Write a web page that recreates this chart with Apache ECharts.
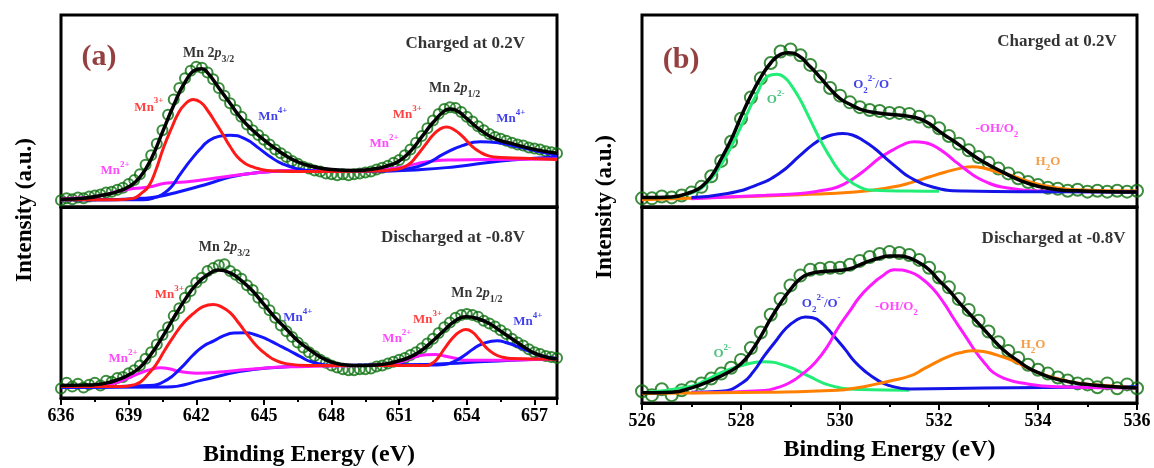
<!DOCTYPE html>
<html>
<head>
<meta charset="utf-8">
<title>XPS Mn 2p / O 1s</title>
<script src="https://cdn.jsdelivr.net/npm/echarts@6/dist/echarts.min.js"></script>
<style>
  html, body { margin: 0; padding: 0; background: #fff; }
  #chart { width: 1154px; height: 468px; }
</style>
</head>
<body>
<div id="chart"></div>
<script>
// ---- data (intensity in % of each sub-panel height) ----

// panel (a), Mn 2p, measured points every 0.25 eV from 636 eV
const mnStart = 636, mnStep = 0.25;
const mnChargedData = [
  3.5, 4.5, 4, 5,   4.5, 5.5, 6, 6.5,   7.5, 8, 9, 10,   12, 14, 17, 22,
  27, 33, 40, 48,   56, 62, 67, 71,   73, 72.5, 70, 66.5,   62, 58, 54, 50.5,
  47, 43, 40, 37.5,   35, 32.5, 30, 28,   26, 24, 22.5, 21,   20, 19, 18.5, 17.5,
  17, 16.5, 17, 16.5,   17, 17.5, 18, 18.5,   19.5, 20.5, 21.5, 23,   24.5, 27, 30, 33.5,
  37, 41, 45, 48.5,   51, 52, 51.5, 49.5,   47, 44.5, 42, 40,   38, 36.5, 35.5, 34.5,
  33.5, 32.5, 32, 31,   30.5, 30, 29, 28.5,   28
];
const mnDischargedData = [
  5, 8, 6, 7.5,   5.5, 7, 8, 6.5,   9, 8.5, 10.5, 11,   13, 14.5, 17, 20.5,
  24, 28, 33, 37,   43, 47, 52.5, 56,   60.5, 63, 66.5, 68,   69.5, 70, 66.5, 64.5,
  62.5, 59, 56.5, 52.5,   49.5, 46, 42, 38,   35, 32, 29, 26.5,   24, 22, 20, 18.5,
  17, 16, 15, 14.5,   14.5, 15, 15, 15.5,   16.5, 17, 18, 19,   20, 21, 22.5, 24,
  26, 28.5, 31, 34,   37, 39.5, 42, 43.5,   44, 43.5, 42.5, 40.5,   39, 37.5, 35.5, 33.5,
  31, 29, 27.5, 25.5,   24, 23, 22, 21.5,   21
];

// fitted curves, [binding energy, intensity]
const mnChargedFit = [[636,4],[637,4.6],[638,6.5],[638.5,8],[639,10.5],[639.5,15.5],[640,25],[640.5,39],[641,53],[641.5,65],[642,71.5],[642.25,72],[642.5,70],[643,62],[643.5,54],[644,46],[644.5,40],[645,35],[645.5,30.5],[646,26.5],[646.5,23.5],[647,21.5],[648,19.5],[649,19],[650,20],[650.5,21.5],[651,24],[651.5,29],[652,36.5],[652.5,44],[653,50],[653.25,51],[653.5,50.5],[654,46],[654.5,41],[655,37],[655.5,34.5],[656,33],[657,30],[658,28]];
const mnChargedMn3 = [[636,3.8],[638.5,3.8],[639.2,4.5],[639.6,7.5],[639.9,11],[640.2,19],[640.55,31],[640.9,41],[641.2,48.7],[641.5,53.5],[641.86,56],[642.2,54.5],[642.52,50],[642.85,44],[643.17,38],[643.5,31.5],[643.83,26],[644.15,22.8],[644.48,21],[644.8,19.8],[645.14,19],[645.6,18.7],[646.5,18.5],[648,18.5],[650,18.7],[650.8,19.5],[651.4,22],[651.8,27],[652.2,33],[652.5,37.5],[652.8,40.5],[653.1,41.7],[653.4,40.5],[653.75,37.4],[654.2,32],[654.6,28.5],[655,26.5],[655.5,25.8],[656.5,25.4],[658,24.7]];
const mnChargedMn4 = [[636,3.8],[639.6,3.8],[640.2,5],[640.55,7],[640.9,10.5],[641.2,15.6],[641.5,20.5],[641.86,26],[642.2,30.5],[642.5,34],[643,36.8],[643.5,37.4],[644.15,35.6],[644.8,30.4],[645.3,26],[645.8,22.6],[646.45,20],[647.3,18.8],[650.5,18.8],[651.4,20],[652.2,22.6],[653,27.8],[653.8,32],[654.6,34],[655.4,33.4],[656.3,31.3],[657.1,29.2],[658,27]];
const mnChargedBg = [[636,3.8],[638,3.8],[639.5,4.5],[640.2,5.2],[641.2,7.8],[642.5,12],[643.5,15.6],[644.8,18],[646.5,19],[648,19],[650,18.8],[652,19.5],[653.5,21],[654.5,22.5],[656,24.5],[658,26]];
const mnChargedMn2 = [[636,4.3],[637,4.8],[637.4,5.2],[638,6.5],[638.6,8.3],[639.2,9.6],[639.9,10.4],[640.7,12.5],[641.5,13],[643.2,15.6],[644.8,18],[646.5,19],[648,19],[650,19.3],[651,20.5],[651.8,22.6],[652.5,24],[653.5,24.5],[655,24.8],[658,25]];

const mnDischargedFit = [[636,6.5],[637,6.8],[637.5,7],[638,7.8],[638.5,9.5],[639,12],[639.5,16],[640,23],[640.5,32],[641,42],[641.5,51.5],[642,59.5],[642.5,64.5],[643,67],[643.5,65.5],[644,61.5],[644.5,56],[645,49],[645.5,42],[646,36],[646.5,30],[647,25.5],[647.5,21.5],[648,18.8],[648.5,17.5],[649,17],[650,17.3],[650.5,18],[651,19.5],[651.5,21.5],[652,25],[652.5,30],[653,35.5],[653.5,40.5],[654,42.5],[654.5,41.5],[655,39],[655.5,35],[656,31],[656.5,27],[657,23.5],[657.5,21.5],[658,20.5]];
const mnDischargedMn3 = [[636,6],[638.7,6],[639.2,6.8],[639.54,8.5],[639.9,13],[640.2,17.2],[640.6,25],[641.02,32.7],[641.45,39.5],[641.85,44],[642.3,47.8],[642.75,49],[643.1,47.8],[643.5,44.7],[643.9,39],[644.3,32.7],[644.7,27],[645.15,22.4],[645.5,19.8],[645.97,18],[646.96,17],[652.2,17],[652.5,18.5],[652.7,20.7],[653.05,26.5],[653.4,31.8],[653.7,34.8],[653.96,35.8],[654.25,34.5],[654.53,31],[654.85,26.5],[655.2,23.2],[655.6,21.3],[656,20.7],[658,20.3]];
const mnDischargedMn4 = [[636,5.5],[639.9,6.5],[640.7,9.5],[641.3,15.5],[641.85,22.4],[642.3,27],[642.8,30],[643.2,32.5],[643.66,34],[644.2,34.2],[644.65,33],[645.1,31],[645.6,28],[646.1,25],[646.6,21.8],[647.1,19],[648.1,17],[652.2,17.2],[653,17.5],[653.5,19.5],[653.9,22.4],[654.3,25.8],[654.7,28.4],[655.35,30],[655.8,28.8],[656.3,26.7],[656.75,24.5],[657.2,22.4],[658,20.7]];
const mnDischargedBg = [[636,5.5],[640.7,5.8],[642.3,9.5],[643.9,13.8],[645.5,16],[647.2,17],[652.2,17.5],[653.9,18.5],[656,19.8],[658,20.5]];
const mnDischargedMn2 = [[636,6],[637.5,6.5],[638.2,7.2],[638.9,10],[639.5,13],[640,15],[640.4,15.8],[640.8,15.3],[641.2,14],[642,13],[643.2,13.8],[644.8,15.5],[646.5,16.4],[649.8,17.2],[650.6,18],[651.1,19],[651.7,21.5],[652.2,22.7],[652.6,22.8],[653,22],[653.5,20.8],[653.9,19.8],[655.5,19.8],[658,20.7]];

// panel (b), O 1s, measured points every 0.2 eV from 526 eV
const oStart = 526, oStep = 0.2;
const oChargedData = [
  4.5, 4.5, 5.5, 5, 6,   7.5, 10.5, 16, 24, 34,   46, 57, 67, 75, 81,
  82, 79, 74, 68, 62,   58, 54.5, 52, 50.5, 50,   49, 49, 48.5, 47, 44.5,
  41, 37, 33, 29.5, 26,   23, 20, 17.5, 15, 13,   11.5, 10, 9.5, 8.5, 9,
  8, 8.5, 8, 8.5, 8,   8.5
];
const oDischargedData = [
  6, 4, 7, 4, 6.5,   8, 10, 12.5, 15, 18,   22, 28, 36, 45, 53,
  60, 65, 68, 68.5, 69,   69, 70.5, 72.5, 74.5, 76,   77, 76.5, 75.5, 73, 69,
  64, 59, 53, 47.5, 42,   36.5, 31, 26.5, 23, 19.5,   17, 15, 13, 11.5, 10,
  9.5, 8, 10, 7.5, 9.5,   7.5
];

const oChargedFit = [[526,4.9],[526.6,5.2],[527,7.8],[527.2,10.5],[527.4,16],[527.6,25],[527.8,35],[528,47],[528.2,58],[528.4,67.5],[528.6,75],[528.8,79.5],[528.95,80.3],[529.15,79],[529.4,73],[529.6,67.5],[529.8,61.5],[530,56.5],[530.2,53.5],[530.4,51],[530.6,49.6],[531,48.3],[531.4,47.2],[531.6,46],[531.8,43.5],[532,39.5],[532.2,36],[532.4,32.5],[532.6,28.5],[532.8,25],[533,22],[533.3,18],[533.6,14.3],[534,10.8],[534.4,9],[534.8,8.4],[535.4,8],[536,7.8]];
const oChargedO2 = [[526.6,5],[527,7.3],[527.2,9.8],[527.37,13.9],[527.55,20],[527.73,27.8],[528.03,43.5],[528.32,59],[528.55,68.2],[528.73,69.2],[528.9,67],[529.05,62],[529.2,55.7],[529.35,48],[529.5,40],[529.65,32.5],[529.8,26],[529.95,20],[530.1,15.6],[530.4,10.4],[530.7,8.7],[531.4,8.3],[532,8.2]];
const oChargedPeroxo = [[527,4.9],[527.73,7],[528.3,11.3],[528.77,17.4],[529.2,27],[529.45,32.5],[529.65,35.7],[529.85,37.6],[530.06,38.3],[530.25,37.5],[530.46,34.8],[530.7,30.5],[530.9,26],[531.15,20.5],[531.4,15.6],[531.87,10.4],[532.5,8.3],[534,7.9],[536,7.8]];
const oChargedOH = [[527,4.3],[528.5,6.1],[529.2,7],[529.6,8.5],[529.95,10.4],[530.25,14.5],[530.54,20],[530.8,25.5],[531.06,29.6],[531.3,32.8],[531.5,34],[531.7,33.6],[531.87,32.2],[532.1,28.5],[532.3,24.3],[532.55,19.3],[532.75,15.6],[533,12.5],[533.27,10.4],[534,8.3],[536,7.8]];
const oChargedH2O = [[526,3.8],[527.73,5.2],[529.2,6.4],[530.3,7.8],[531.06,10.4],[531.45,12.8],[531.8,15.6],[532.1,18],[532.4,20],[532.68,20.9],[532.9,20.3],[533.1,18.8],[533.4,16.8],[533.64,14.8],[533.9,12.6],[534.2,10.8],[534.75,9],[536,8.3]];

const oDischargedFit = [[526,5.2],[526.6,5.5],[527,7.7],[527.4,11.5],[527.8,16.5],[528,20],[528.2,26],[528.4,34],[528.6,43],[528.8,51],[529,58],[529.2,63.5],[529.4,66],[529.6,67],[529.8,67.3],[530,67.7],[530.2,68.5],[530.4,70.5],[530.6,72.5],[530.8,74],[531,75],[531.2,75],[531.4,74],[531.6,71.5],[531.8,68],[532,62.5],[532.2,57.5],[532.4,51.5],[532.6,46],[532.8,40.5],[533,35],[533.2,29.5],[533.4,25],[533.6,21.5],[533.8,18],[534,15.5],[534.2,13.5],[534.4,12],[534.6,11],[534.8,10],[535,9.5],[535.4,8.5],[536,7.7]];
const oDischargedO2 = [[526,5.2],[527,8.6],[527.3,11.8],[527.6,15.5],[528.03,19.3],[528.47,21],[528.9,19],[529.36,13.8],[529.8,9],[530.4,6.9],[531.4,6.5]];
const oDischargedPeroxo = [[527,5.5],[527.6,6],[528.03,10.3],[528.25,16],[528.47,24],[528.7,31.5],[528.9,37.9],[529.1,42],[529.3,43.9],[529.45,43.5],[529.65,40.4],[529.85,35],[530.1,27.5],[530.3,21],[530.54,15.5],[530.75,11.8],[530.98,9],[531.42,7.2],[532.9,7.7],[536,8.3]];
const oDischargedOH = [[527,5.2],[528.47,6.4],[528.75,8],[528.98,10.3],[529.25,15],[529.5,20.7],[529.75,29],[529.95,37.9],[530.2,47],[530.4,54.2],[530.62,60],[530.84,64.5],[531.1,68],[531.42,66.8],[531.65,63.5],[531.87,58.5],[532.1,51],[532.3,43],[532.55,33.5],[532.75,25.8],[532.95,19.5],[533.1,15.5],[533.35,12.3],[533.64,10.3],[534.38,8.3],[536,7.7]];
const oDischargedH2O = [[526,4.8],[528.47,5.5],[529.95,6.5],[530.35,7.8],[530.7,9.5],[531.05,11.5],[531.42,13.8],[531.7,17.5],[532,21.5],[532.25,24.3],[532.46,25.8],[532.68,26.7],[532.9,26.3],[533.1,25],[533.4,22.5],[533.64,19.8],[533.9,16.5],[534.2,13.8],[534.5,11.8],[534.75,10.3],[535.2,9.2],[536,7.7]];

// annotations: [energy, intensity, text, colour, size, anchor]
const mnChargedNotes = [
  [637.69, 78, '(a)', 'tag', 30, 'c'],
  [656.6, 85, 'Charged at 0.2V', 'k', 17, 'r'],
  [642.55, 80, '{b|Mn 2}{i|p}{sub|3/2}', 'k', 14, 'c'],
  [639.9, 52, '{b|Mn}{sup|3+}', 'r', 13, 'c'],
  [645.4, 47, '{b|Mn}{sup|4+}', 'b', 13, 'c'],
  [638.4, 19, '{b|Mn}{sup|2+}', 'm', 13, 'c'],
  [653.46, 62, '{b|Mn 2}{i|p}{sub|1/2}', 'k', 14, 'c'],
  [651.36, 48, '{b|Mn}{sup|3+}', 'r', 13, 'c'],
  [650.33, 33, '{b|Mn}{sup|2+}', 'm', 13, 'c'],
  [655.95, 46, '{b|Mn}{sup|4+}', 'b', 13, 'c']
];
const mnDischargedNotes = [
  [656.6, 84, 'Discharged at -0.8V', 'k', 17, 'r'],
  [643.25, 79, '{b|Mn 2}{i|p}{sub|3/2}', 'k', 14, 'c'],
  [640.8, 54, '{b|Mn}{sup|3+}', 'r', 13, 'c'],
  [646.5, 42, '{b|Mn}{sup|4+}', 'b', 13, 'c'],
  [638.75, 20.6, '{b|Mn}{sup|2+}', 'm', 13, 'c'],
  [654.45, 55, '{b|Mn 2}{i|p}{sub|1/2}', 'k', 14, 'c'],
  [652.26, 41, '{b|Mn}{sup|3+}', 'r', 13, 'c'],
  [650.9, 31, '{b|Mn}{sup|2+}', 'm', 13, 'c'],
  [656.7, 40, '{b|Mn}{sup|4+}', 'b', 13, 'c']
];
const oChargedNotes = [
  [526.79, 76.5, '(b)', 'tag', 30, 'c'],
  [535.6, 86, 'Charged at 0.2V', 'k', 17, 'r'],
  [528.7, 55.7, '{b|O}{sup|2-}', 'g', 13, 'c'],
  [530.66, 63.5, '{b|O}{sub|2}{sup|2-}{b|/O}{sup|-}', 'b', 13, 'c'],
  [533.17, 41, '{b|-OH/O}{sub|2}', 'm', 13, 'c'],
  [534.2, 23.5, '{b|H}{sub|2}{b|O}', 'o', 13, 'c']
];
const oDischargedNotes = [
  [535.78, 84, 'Discharged at -0.8V', 'k', 17, 'r'],
  [527.62, 25, '{b|O}{sup|2-}', 'g', 13, 'c'],
  [529.62, 50.8, '{b|O}{sub|2}{sup|2-}{b|/O}{sup|-}', 'b', 13, 'c'],
  [531.14, 49, '{b|-OH/O}{sub|2}', 'm', 13, 'c'],
  [533.9, 30, '{b|H}{sub|2}{b|O}', 'o', 13, 'c']
];

// ---- styling ----
const FONT = '"Liberation Serif", "Times New Roman", serif';
const noteColors = {
  tag: '#7a1010', k: '#000', r: '#ff1010', b: '#1010e8', m: '#ff1cff',
  g: '#1fb45f', o: '#f08418'
};
const DATA_GREEN = '#0c700f';

function points(start, step, values) {
  return values.map(function (v, i) { return [+(start + i * step).toFixed(3), v]; });
}

function richFor(color, size) {
  const small = Math.round(size * 0.7);
  return {
    b: { fontSize: size, fontWeight: 'bold', fontFamily: FONT, color: color, lineHeight: size + 8 },
    i: { fontSize: size, fontWeight: 'bold', fontStyle: 'italic', fontFamily: FONT, color: color, lineHeight: size + 8 },
    sup: { fontSize: small, fontWeight: 'bold', fontFamily: FONT, color: color, verticalAlign: 'top', lineHeight: small + 2 },
    sub: { fontSize: small, fontWeight: 'bold', fontFamily: FONT, color: color, verticalAlign: 'bottom', lineHeight: small + 2 }
  };
}

function noteSeries(idx, notes) {
  return {
    type: 'scatter', xAxisIndex: idx, yAxisIndex: idx, z: 10, silent: true,
    symbol: 'circle', symbolSize: 1, itemStyle: { color: 'transparent' },
    data: notes.map(function (n) {
      const color = noteColors[n[3]];
      return {
        value: [n[0], n[1]],
        label: {
          show: true,
          formatter: n[2],
          position: n[5] === 'r' ? 'left' : 'inside',
          distance: 0,
          color: color,
          fontFamily: FONT,
          fontWeight: 'bold',
          fontSize: n[4],
          rich: richFor(color, n[4])
        }
      };
    })
  };
}

function scatterSeries(idx, data, size) {
  return {
    type: 'scatter', xAxisIndex: idx, yAxisIndex: idx, z: 1, silent: true,
    symbol: 'circle', symbolSize: size, data: data,
    itemStyle: { color: 'transparent', borderColor: DATA_GREEN, borderWidth: 2 }
  };
}

function curve(idx, data, color, width, z) {
  return {
    type: 'line', xAxisIndex: idx, yAxisIndex: idx, z: z || 3, silent: true,
    data: data, showSymbol: false, smooth: 0.5,
    lineStyle: { color: color, width: width || 3 }
  };
}

function xAxisFor(idx, min, max, interval, isBottom, nameGap) {
  const ax = {
    type: 'value', gridIndex: idx, min: min, max: max, interval: interval,
    splitLine: { show: false },
    axisLine: { show: true, onZero: false, lineStyle: { color: '#000', width: 3 } },
    axisTick: { show: false },
    axisLabel: { show: false }
  };
  if (isBottom) {
    ax.axisTick = { show: true, inside: false, length: 7, lineStyle: { color: '#000', width: 2 } };
    ax.minorTick = { show: true, splitNumber: 2, length: 4, lineStyle: { color: '#000', width: 2 } };
    ax.axisLabel = {
      show: true, color: '#000', fontFamily: FONT, fontWeight: 'bold', fontSize: 18, margin: 9,
      showMaxLabel: max % interval === 0
    };
    ax.name = 'Binding Energy (eV)';
    ax.nameLocation = 'middle';
    ax.nameGap = nameGap;
    ax.nameTextStyle = { color: '#000', fontFamily: FONT, fontWeight: 'bold', fontSize: 24 };
  }
  return ax;
}

function yAxisFor(idx) {
  return { type: 'value', gridIndex: idx, min: 0, max: 100, show: false };
}

const chart = echarts.init(document.getElementById('chart'), null, { renderer: 'canvas' });

const gridStyle = { show: true, borderColor: '#000', borderWidth: 3, backgroundColor: '#fff' };

const option = {
  animation: false,
  backgroundColor: '#fff',
  grid: [
    Object.assign({ left: 61, width: 496, top: 15, height: 192 }, gridStyle),
    Object.assign({ left: 61, width: 496, top: 207, height: 196 }, gridStyle),
    Object.assign({ left: 642, width: 495, top: 15, height: 192 }, gridStyle),
    Object.assign({ left: 642, width: 495, top: 207, height: 196 }, gridStyle)
  ],
  xAxis: [
    xAxisFor(0, 636, 658, 3, false),
    xAxisFor(1, 636, 658, 3, true, 45),
    xAxisFor(2, 526, 536, 2, false),
    xAxisFor(3, 526, 536, 2, true, 35)
  ],
  yAxis: [yAxisFor(0), yAxisFor(1), yAxisFor(2), yAxisFor(3)],
  graphic: [
    {
      type: 'text', x: 25, y: 210, rotation: Math.PI / 2,
      style: { text: 'Intensity (a.u.)', fill: '#000', fontFamily: FONT, fontWeight: 'bold', fontSize: 23, align: 'center', verticalAlign: 'middle' }
    },
    {
      type: 'text', x: 605, y: 207, rotation: Math.PI / 2,
      style: { text: 'Intensity (a.u.)', fill: '#000', fontFamily: FONT, fontWeight: 'bold', fontSize: 23, align: 'center', verticalAlign: 'middle' }
    }
  ],
  series: [
    // (a) charged
    scatterSeries(0, points(mnStart, mnStep, mnChargedData), 10),
    curve(0, mnChargedBg, '#1414ff'),
    curve(0, mnChargedMn2, '#ff19ff'),
    curve(0, mnChargedMn4, '#1414ff'),
    curve(0, mnChargedMn3, '#ff1a1a'),
    curve(0, mnChargedFit, '#000', 3.5, 4),
    noteSeries(0, mnChargedNotes),
    // (a) discharged
    scatterSeries(1, points(mnStart, mnStep, mnDischargedData), 10),
    curve(1, mnDischargedBg, '#1414ff'),
    curve(1, mnDischargedMn2, '#ff19ff'),
    curve(1, mnDischargedMn4, '#1414ff'),
    curve(1, mnDischargedMn3, '#ff1a1a'),
    curve(1, mnDischargedFit, '#000', 3.5, 4),
    noteSeries(1, mnDischargedNotes),
    // (b) charged
    scatterSeries(2, points(oStart, oStep, oChargedData), 12),
    curve(2, oChargedH2O, '#ff8000'),
    curve(2, oChargedOH, '#ff19ff'),
    curve(2, oChargedPeroxo, '#1414e6'),
    curve(2, oChargedO2, '#22ee77'),
    curve(2, oChargedFit, '#000', 3.5, 4),
    noteSeries(2, oChargedNotes),
    // (b) discharged
    scatterSeries(3, points(oStart, oStep, oDischargedData), 12),
    curve(3, oDischargedO2, '#22ee77'),
    curve(3, oDischargedPeroxo, '#1414e6'),
    curve(3, oDischargedOH, '#ff19ff'),
    curve(3, oDischargedH2O, '#ff8000'),
    curve(3, oDischargedFit, '#000', 3.5, 4),
    noteSeries(3, oDischargedNotes)
  ]
};

chart.setOption(option);
window.addEventListener('resize', function () {
  chart.resize();
});
</script>
</body>
</html>
